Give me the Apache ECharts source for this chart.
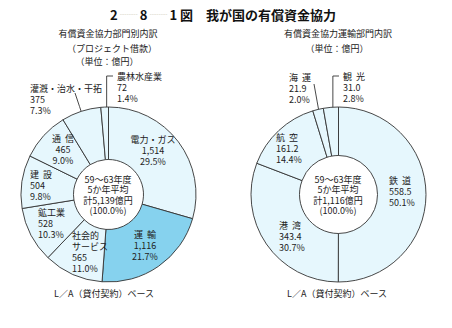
<!DOCTYPE html>
<html><head><meta charset="utf-8">
<script src="https://cdn.jsdelivr.net/npm/echarts@6/dist/echarts.min.js"></script>
<style>html,body{margin:0;padding:0;background:#fff}#c{width:452px;height:328px}</style>
</head><body><div id="c"></div>
<script>
// ---- data ----
const leftCategories = ['電力・ガス','運輸','社会的サービス','鉱工業','建設','通信','灌漑・治水・干拓','農林水産業'];
const leftDisplay = ['電力・ガス','運  輸','社会的\nサービス','鉱工業','建  設','通  信','灌漑・治水・干拓','農林水産業'];
const leftValues = [1514,1116,565,528,504,465,375,72];
const leftPercents = ['29.5','21.7','11.0','10.3','9.8','9.0','7.3','1.4'];
const rightCategories = ['鉄道','港湾','航空','海運','観光'];
const rightDisplay = ['鉄  道','港  湾','航  空','海  運','観  光'];
const rightValues = [558.5,343.4,161.2,21.9,31.0];
const rightPercents = ['50.1','30.7','14.4','2.0','2.8'];
const leftCenterLines = ['59～63年度','5か年平均','計5,139億円','(100.0%)'];
const rightCenterLines = ['59～63年度','5か年平均','計1,116億円','(100.0%)'];
const highlighted = ['運輸'];

// ---- layout (label spots) ----
const leftSpots = [
  {x:153,y:139,align:'center'},
  {x:145,y:234,align:'center'},
  {x:72,y:235,align:'left'},
  {x:38,y:212,align:'left'},
  {x:30,y:174,align:'left'},
  {x:63,y:138,align:'center'},
  {x:30,y:88,align:'left',leader:'diag',ex:45,ey:5},
  {x:117,y:76,align:'left',leader:'bracket'}
];
const rightSpots = [
  {x:389,y:180,align:'left'},
  {x:279,y:225,align:'left'},
  {x:276,y:137,align:'left'},
  {x:289,y:77,align:'left',leader:'diag',ex:25,ey:7},
  {x:343,y:76,align:'left',leader:'bracket'}
];

const FONT = '"Noto Sans CJK JP","Noto Sans",sans-serif';
const LIGHT = '#e6f7fd', DARK = '#86d2ee', LINE = '#333';

function makePie(center, inner, cats, disp, vals, pcts, spots, fmtVal) {
  return {
    type: 'pie', center: center, radius: [inner, 87.5],
    startAngle: 90, clockwise: true, avoidLabelOverlap: false,
    animation: false, silent: true,
    itemStyle: {borderColor: LINE, borderWidth: 0.9},
    label: {
      show: true, fontFamily: FONT, fontSize: 9, lineHeight: 11, color: '#222',
      formatter: p => disp[p.dataIndex] + '\n' + fmtVal(vals[p.dataIndex]) + '\n' + pcts[p.dataIndex] + '%'
    },
    labelLine: {lineStyle: {color: LINE, width: 0.9}, length: 12, length2: 6},
    labelLayout: function (p) {
      const s = spots[p.dataIndex];
      const out = {x: s.x, y: s.y - 5.5, align: s.align, verticalAlign: 'top'};
      if (s.leader && p.labelLinePoints) {
        const pts = p.labelLinePoints, p0 = pts[0], p1 = pts[1];
        if (s.leader === 'diag') {
          const dx = p1[0]-p0[0], dy = p1[1]-p0[1], L = Math.hypot(dx, dy) || 1;
          const st = [p0[0]-dx/L*9, p0[1]-dy/L*9];
          const en = [s.x+s.ex, s.y+s.ey];
          out.labelLinePoints = [st, [(st[0]+en[0])/2, (st[1]+en[1])/2], en];
        } else {
          out.labelLinePoints = [[p0[0]+2, p0[1]+6], [p0[0]+2, s.y], [s.x-4, s.y]];
        }
      }
      return out;
    },
    data: cats.map((c, i) => ({
      name: c, value: vals[i],
      label: {position: spots[i].leader ? 'outside' : 'inside'},
      labelLine: {show: !!spots[i].leader},
      itemStyle: {color: highlighted.includes(c) ? DARK : LIGHT}
    }))
  };
}

function txt(text, x, y, size, extra) {
  return Object.assign({type: 'text', x: x, y: y, silent: true,
    style: Object.assign({text: text, font: size + 'px ' + FONT, fill: '#222', align: 'center', verticalAlign: 'middle'}, extra || {})});
}

const graphics = [
  {type: 'text', x: 110, y: 14, silent: true, style: {
    text: '{n|2}{d| ┈┈ }{n|8}{d| ┈┈ }{n|1 図}{n|　我が国の有償資金協力}',
    verticalAlign: 'middle', align: 'left',
    rich: {
      n: {fontFamily: FONT, fontSize: 13, fontWeight: 'bold', fill: '#111'},
      d: {fontFamily: FONT, fontSize: 9, fill: '#a8a080'}
    }}},
  txt('有償資金協力部門別内訳', 108, 33, 9),
  txt('（プロジェクト借款）', 112, 48, 9),
  txt('（単位：億円）', 107, 61, 9),
  txt('有償資金協力運輸部門内訳', 338, 33, 9),
  txt('（単位：億円）', 337, 48, 9),
  txt('L／A（貸付契約）ベース', 104, 293, 9),
  txt('L／A（貸付契約）ベース', 337, 293, 9),
  txt(leftCenterLines.join('\n'), 108, 195, 9, {lineHeight: 10.3}),
  txt(rightCenterLines.join('\n'), 338, 195, 9, {lineHeight: 10.3})
];

const chart = echarts.init(document.getElementById('c'), null, {renderer: 'svg'});
chart.setOption({
  animation: false,
  backgroundColor: '#fff',
  series: [
    makePie([108.5, 194.5], 35, leftCategories, leftDisplay, leftValues, leftPercents, leftSpots,
      v => v.toLocaleString('en-US')),
    makePie([338.5, 194.5], 39, rightCategories, rightDisplay, rightValues, rightPercents, rightSpots,
      v => v.toFixed(1))
  ],
  graphic: graphics
});
</script></body></html>
